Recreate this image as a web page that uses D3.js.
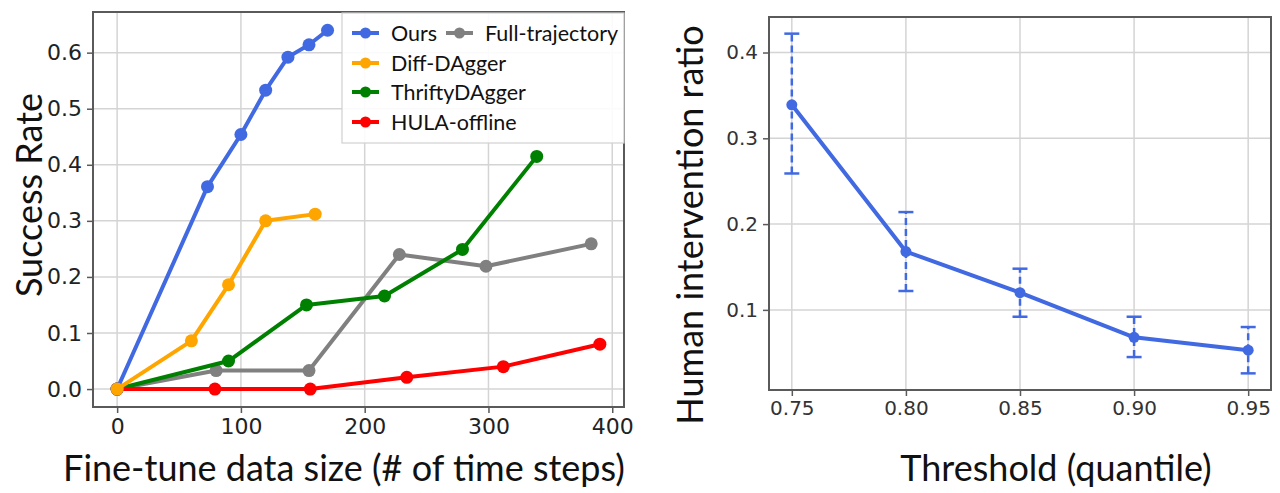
<!DOCTYPE html>
<html>
<head>
<meta charset="utf-8">
<script src="https://cdn.jsdelivr.net/npm/d3@7"></script>
<style>
  body { margin: 0; background: #fff; }
  svg { display: block; }
</style>
</head>
<body>
<svg id="chart" width="1280" height="493"></svg>
<script>
// left panel: success rate vs fine-tune data size
const oursX = [0, 73, 100, 120, 138, 155, 170];
const oursY = [0, 0.361, 0.454, 0.533, 0.592, 0.614, 0.640];
const fullX = [0, 80, 155, 228, 298, 383];
const fullY = [0, 0.033, 0.033, 0.240, 0.219, 0.259];
const diffX = [0, 60, 90, 120, 160];
const diffY = [0, 0.086, 0.186, 0.300, 0.312];
const thriftyX = [0, 90, 153, 216, 279, 339];
const thriftyY = [0, 0.050, 0.150, 0.166, 0.249, 0.415];
const hulaX = [0, 79, 156, 234, 312, 390];
const hulaY = [0, 0, 0, 0.021, 0.040, 0.080];
const leftXTicks = [0, 100, 200, 300, 400];
const leftYTicks = [0, 0.1, 0.2, 0.3, 0.4, 0.5, 0.6];

// right panel: human intervention ratio vs threshold
const thresholds = [0.75, 0.80, 0.85, 0.90, 0.95];
const ratio = [0.339, 0.168, 0.120, 0.068, 0.053];
const ratioLow = [0.259, 0.122, 0.092, 0.045, 0.026];
const ratioHigh = [0.422, 0.214, 0.148, 0.092, 0.080];
const rightXTicks = ["0.75", "0.80", "0.85", "0.90", "0.95"];
const rightYTicks = [0.1, 0.2, 0.3, 0.4];

const svg = d3.select("#chart");
const gridColor = "#d4d4d4";
const spineColor = "#5a5a5a";
const labelFont = "Lato, 'Open Sans', sans-serif";
const tickFont = "'DejaVu Sans', sans-serif";

// ---------- left chart ----------
const L = { left: 93, right: 624, top: 12, bottom: 407 };
const xL = d3.scaleLinear().domain([-19.5, 409.5]).range([L.left, L.right]);
const yL = d3.scaleLinear().domain([-0.032, 0.6725]).range([L.bottom, L.top]);

const gL = svg.append("g");

// grid
gL.selectAll(".vgrid").data(leftXTicks).enter().append("line")
  .attr("x1", d => xL(d)).attr("x2", d => xL(d))
  .attr("y1", L.top).attr("y2", L.bottom)
  .attr("stroke", gridColor).attr("stroke-width", 1.5);
gL.selectAll(".hgrid").data(leftYTicks).enter().append("line")
  .attr("y1", d => yL(d)).attr("y2", d => yL(d))
  .attr("x1", L.left).attr("x2", L.right)
  .attr("stroke", gridColor).attr("stroke-width", 1.5);

// axes
const axL = gL.append("g").attr("transform", `translate(0,${L.bottom})`)
  .call(d3.axisBottom(xL).tickValues(leftXTicks).tickSize(6).tickPadding(5).tickFormat(d3.format("d")));
const ayL = gL.append("g").attr("transform", `translate(${L.left},0)`)
  .call(d3.axisLeft(yL).tickValues(leftYTicks).tickSize(6).tickPadding(5).tickFormat(d3.format(".1f")));
[axL, ayL].forEach(a => {
  a.select(".domain").remove();
  a.selectAll(".tick line").attr("stroke", spineColor).attr("stroke-width", 1.5);
  a.selectAll(".tick text").attr("font-family", tickFont).attr("font-size", 22).attr("fill", "#222");
});

// series
const leftSeries = [
  { name: "Full-trajectory", xs: fullX, ys: fullY, color: "#808080" },
  { name: "ThriftyDAgger", xs: thriftyX, ys: thriftyY, color: "#008000" },
  { name: "HULA-offline", xs: hulaX, ys: hulaY, color: "#ff0000" },
  { name: "Ours", xs: oursX, ys: oursY, color: "#4169e1" },
  { name: "Diff-DAgger", xs: diffX, ys: diffY, color: "#ffa500" }
];
const lineL = d3.line().x(d => xL(d[0])).y(d => yL(d[1]));
leftSeries.forEach(s => {
  const pts = s.xs.map((x, i) => [x, s.ys[i]]);
  gL.append("path").datum(pts)
    .attr("d", lineL).attr("fill", "none")
    .attr("stroke", s.color).attr("stroke-width", 4)
    .attr("stroke-linejoin", "round");
  gL.selectAll(null).data(pts).enter().append("circle")
    .attr("cx", d => xL(d[0])).attr("cy", d => yL(d[1]))
    .attr("r", 6.5).attr("fill", s.color);
});

// frame
gL.append("rect")
  .attr("x", L.left).attr("y", L.top)
  .attr("width", L.right - L.left).attr("height", L.bottom - L.top)
  .attr("fill", "none").attr("stroke", spineColor).attr("stroke-width", 2);

// legend
const legend = gL.append("g");
legend.append("rect")
  .attr("x", 342).attr("y", 13).attr("width", 282).attr("height", 130)
  .attr("fill", "#fff").attr("fill-opacity", 0.9)
  .attr("stroke", "#d0d0d0").attr("stroke-width", 1.2);
const legendItems = [
  { name: "Ours", color: "#4169e1", x: 352, y: 33 },
  { name: "Full-trajectory", color: "#808080", x: 446, y: 33 },
  { name: "Diff-DAgger", color: "#ffa500", x: 352, y: 63 },
  { name: "ThriftyDAgger", color: "#008000", x: 352, y: 92 },
  { name: "HULA-offline", color: "#ff0000", x: 352, y: 122 }
];
legendItems.forEach(it => {
  legend.append("line")
    .attr("x1", it.x).attr("x2", it.x + 27).attr("y1", it.y).attr("y2", it.y)
    .attr("stroke", it.color).attr("stroke-width", 4);
  legend.append("circle").attr("cx", it.x + 13.5).attr("cy", it.y).attr("r", 5.5).attr("fill", it.color);
  legend.append("text")
    .attr("x", it.x + 39).attr("y", it.y).attr("dy", "0.35em")
    .attr("font-family", labelFont).attr("font-size", 21.5).attr("fill", "#111")
    .text(it.name);
});

// axis titles
gL.append("text")
  .attr("transform", "translate(42,195) rotate(-90)")
  .attr("text-anchor", "middle")
  .attr("font-family", labelFont).attr("font-size", 36).attr("fill", "#111")
  .text("Success Rate");
gL.append("text")
  .attr("x", 344).attr("y", 481)
  .attr("text-anchor", "middle")
  .attr("font-family", labelFont).attr("font-size", 36).attr("fill", "#111")
  .text("Fine-tune data size (# of time steps)");

// ---------- right chart ----------
const R = { left: 769, right: 1271, top: 17, bottom: 390 };
const xR = d3.scaleLinear().domain([0.74, 0.96]).range([R.left, R.right]);
const yR = d3.scaleLinear().domain([0.0066, 0.4414]).range([R.bottom, R.top]);

const gR = svg.append("g");
gR.selectAll(".vgrid").data(thresholds).enter().append("line")
  .attr("x1", d => xR(d)).attr("x2", d => xR(d))
  .attr("y1", R.top).attr("y2", R.bottom)
  .attr("stroke", gridColor).attr("stroke-width", 1.5);
gR.selectAll(".hgrid").data(rightYTicks).enter().append("line")
  .attr("y1", d => yR(d)).attr("y2", d => yR(d))
  .attr("x1", R.left).attr("x2", R.right)
  .attr("stroke", gridColor).attr("stroke-width", 1.5);

const axR = gR.append("g").attr("transform", `translate(0,${R.bottom})`)
  .call(d3.axisBottom(xR).tickValues(thresholds).tickSize(6).tickPadding(5)
    .tickFormat((d, i) => rightXTicks[i]));
const ayR = gR.append("g").attr("transform", `translate(${R.left},0)`)
  .call(d3.axisLeft(yR).tickValues(rightYTicks).tickSize(6).tickPadding(5).tickFormat(d3.format(".1f")));
[axR, ayR].forEach(a => {
  a.select(".domain").remove();
  a.selectAll(".tick line").attr("stroke", spineColor).attr("stroke-width", 1.5);
  a.selectAll(".tick text").attr("font-family", tickFont).attr("font-size", 20).attr("fill", "#333");
});

const blue = "#4169e1";
// error bars
thresholds.forEach((t, i) => {
  gR.append("line")
    .attr("x1", xR(t)).attr("x2", xR(t))
    .attr("y1", yR(ratioLow[i])).attr("y2", yR(ratioHigh[i]))
    .attr("stroke", blue).attr("stroke-width", 2.5).attr("stroke-dasharray", "7,4");
  [ratioLow[i], ratioHigh[i]].forEach(v => {
    gR.append("line")
      .attr("x1", xR(t) - 7.5).attr("x2", xR(t) + 7.5)
      .attr("y1", yR(v)).attr("y2", yR(v))
      .attr("stroke", blue).attr("stroke-width", 2.5);
  });
});
const lineR = d3.line().x((d, i) => xR(thresholds[i])).y(d => yR(d));
gR.append("path").datum(ratio)
  .attr("d", lineR).attr("fill", "none")
  .attr("stroke", blue).attr("stroke-width", 4).attr("stroke-linejoin", "round");
gR.selectAll(null).data(ratio).enter().append("circle")
  .attr("cx", (d, i) => xR(thresholds[i])).attr("cy", d => yR(d))
  .attr("r", 5.5).attr("fill", blue);

gR.append("rect")
  .attr("x", R.left).attr("y", R.top)
  .attr("width", R.right - R.left).attr("height", R.bottom - R.top)
  .attr("fill", "none").attr("stroke", spineColor).attr("stroke-width", 2);

gR.append("text")
  .attr("transform", "translate(703,225) rotate(-90)")
  .attr("text-anchor", "middle")
  .attr("font-family", labelFont).attr("font-size", 36).attr("fill", "#111")
  .text("Human intervention ratio");
gR.append("text")
  .attr("x", 1056).attr("y", 481)
  .attr("text-anchor", "middle")
  .attr("font-family", labelFont).attr("font-size", 36).attr("fill", "#111")
  .text("Threshold (quantile)");
</script>
</body>
</html>
